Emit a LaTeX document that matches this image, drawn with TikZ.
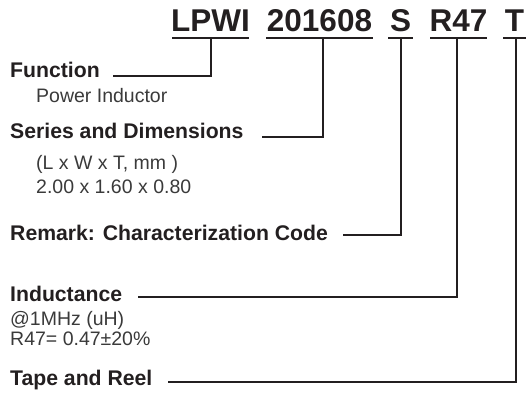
\documentclass[tikz,border=0pt]{standalone}
\usepackage{fontspec}
\setmainfont{Liberation Sans}
\definecolor{ink}{HTML}{231F20}
\definecolor{sub}{HTML}{3A3A3A}
\begin{document}
\begin{tikzpicture}[x=1pt,y=-1pt,
  code/.style={inner sep=0pt,anchor=base,text=ink,font=\fontsize{31.5}{31.5}\selectfont\bfseries},
  head/.style={inner sep=0pt,anchor=base west,text=ink,font=\fontsize{21.2}{21.2}\selectfont\bfseries},
  desc/.style={inner sep=0pt,anchor=base west,text=sub,font=\fontsize{19.5}{19.5}\selectfont},
  uline/.style={draw=ink,line width=2.4pt},
  conn/.style={draw=ink,line width=1.4pt}]
\useasboundingbox (0,0) rectangle (526,407);
% underline ends
\coordinate (u1a) at (172,38); \coordinate (u1b) at (249,38);
\coordinate (u2a) at (266,38); \coordinate (u2b) at (373,38);
\coordinate (u3a) at (388,38); \coordinate (u3b) at (413,38);
\coordinate (u4a) at (430,38); \coordinate (u4b) at (487,38);
\coordinate (u5a) at (503,38); \coordinate (u5b) at (526,38);
% part number
\node[code] (c1) at (210.5,31) {LPWI};
\node[code] (c2) at (319.5,31) {201608};
\node[code] (c3) at (400.5,31) {S};
\node[code] (c4) at (458.5,31) {R47};
\node[code] (c5) at (514.5,31) {T};
\foreach \i in {1,...,5}
  \draw[uline] (u\i a) -- (u\i b);
% tick points on the underlines
\coordinate (t1) at (211,38);
\coordinate (t2) at (323,38);
\coordinate (t3) at (401,38);
\coordinate (t4) at (457,38);
\coordinate (t5) at (516,38);
% labels
\node[head] (h1) at (10,77) {Function};
\node[desc] (d1) at (36,102) {Power Inductor};
\node[head] (h2) at (10,138) {Series and Dimensions};
\node[desc] (d2a) at (36,169) {(L x W x T, mm )};
\node[desc] (d2b) at (36,193) {2.00 x 1.60 x 0.80};
\node[head] (h3) at (10,240) {Remark: Characterization Code};
\node[head] (h4) at (10,301) {Inductance};
\node[desc] (d4a) at (10,325) {@1MHz (uH)};
\node[desc] (d4b) at (10,345) {R47= 0.47±20\%};
\node[head] (h5) at (10,385) {Tape and Reel};
% connector start points
\coordinate (s1) at (113,76);
\coordinate (s2) at (262,137);
\coordinate (s3) at (343,235);
\coordinate (s4) at (138,297);
\coordinate (s5) at (168,382);
\draw[conn] (s1) -| (t1);
\draw[conn] (s2) -| (t2);
\draw[conn] (s3) -| (t3);
\draw[conn] (s4) -| (t4);
\draw[conn] (s5) -| (t5);
\end{tikzpicture}
\end{document}
